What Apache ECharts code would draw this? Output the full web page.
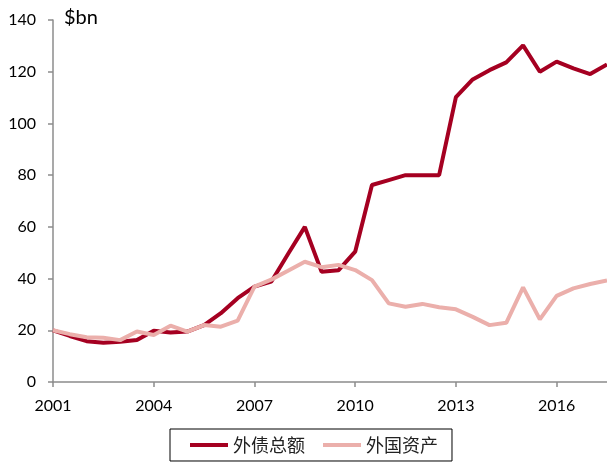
<!DOCTYPE html>
<html>
<head>
<meta charset="utf-8">
<script src="https://cdn.jsdelivr.net/npm/echarts@6/dist/echarts.min.js"></script>
<style>html,body{margin:0;padding:0;background:#fff;}#c{width:607px;height:465px;}</style>
</head>
<body>
<div id="c"></div>
<script>
var categories = ['2001','2001.5','2002','2002.5','2003','2003.5','2004','2004.5','2005','2005.5','2006','2006.5','2007','2007.5','2008','2008.5','2009','2009.5','2010','2010.5','2011','2011.5','2012','2012.5','2013','2013.5','2014','2014.5','2015','2015.5','2016','2016.5','2017','2017.5'];
var externalDebt = [20,17.8,15.8,15.2,15.6,16.2,19.8,19.1,19.5,22,26.6,32.4,36.9,38.8,49.5,60,42.6,43.2,50.4,76.2,78.1,80,80,80,110.2,117,120.6,123.6,130.2,120,123.9,121.3,119.1,122.8];
var foreignAssets = [20,18.5,17.3,17.1,16.2,19.5,18.2,21.8,19.5,22,21.4,23.7,36.9,39.6,43,46.5,44.4,45.3,43.3,39.4,30.4,29.1,30.2,28.9,28.1,25.2,22,22.9,36.6,24.2,33.3,36.2,37.9,39.3];
var seriesNames = ['外债总额','外国资产'];
var unitLabel = '$bn';

var chart = echarts.init(document.getElementById('c'), null, {renderer:'canvas'});
var axisColor = '#8c8c8c';
var font = 'Lato, "Noto Sans CJK SC", sans-serif';
chart.setOption({
  backgroundColor: '#ffffff',
  animation: false,
  title: {text: unitLabel, left: 59, top: 3, textStyle: {fontFamily: font, fontSize: 20, fontWeight: 'normal', color: '#000'}},
  grid: {left: 53, right: -2, top: 20, bottom: 83, containLabel: false},
  legend: {
    data: seriesNames, left: 170, top: 429,
    icon: 'rect', itemWidth: 38, itemHeight: 4, itemGap: 18,
    padding: [7, 14, 7, 20],
    borderColor: '#000', borderWidth: 1,
    textStyle: {fontFamily: '"Noto Sans CJK SC", sans-serif', fontSize: 18, color: '#222'}
  },
  xAxis: {
    type: 'category', data: categories, boundaryGap: false,
    axisLine: {lineStyle: {color: axisColor, width: 1.5}},
    axisTick: {interval: 5, length: 5, lineStyle: {color: axisColor, width: 1.5}},
    axisLabel: {interval: 5, margin: 16, fontFamily: font, fontSize: 16, color: '#000', formatter: function(v){return v.slice(0,4);}},
    splitLine: {show: false}
  },
  yAxis: {
    type: 'value', min: 0, max: 140, interval: 20,
    axisLine: {show: true, lineStyle: {color: axisColor, width: 1.5}},
    axisTick: {show: true, length: 5, lineStyle: {color: axisColor, width: 1.5}},
    axisLabel: {margin: 17, fontFamily: font, fontSize: 16, color: '#000'},
    splitLine: {show: false}
  },
  series: [
    {name: seriesNames[0], type: 'line', data: externalDebt, symbol: 'none', lineStyle: {color: '#A50021', width: 4}, itemStyle: {color: '#A50021'}},
    {name: seriesNames[1], type: 'line', data: foreignAssets, symbol: 'none', lineStyle: {color: '#EBAFAB', width: 4}, itemStyle: {color: '#EBAFAB'}}
  ]
});
</script>
</body>
</html>
